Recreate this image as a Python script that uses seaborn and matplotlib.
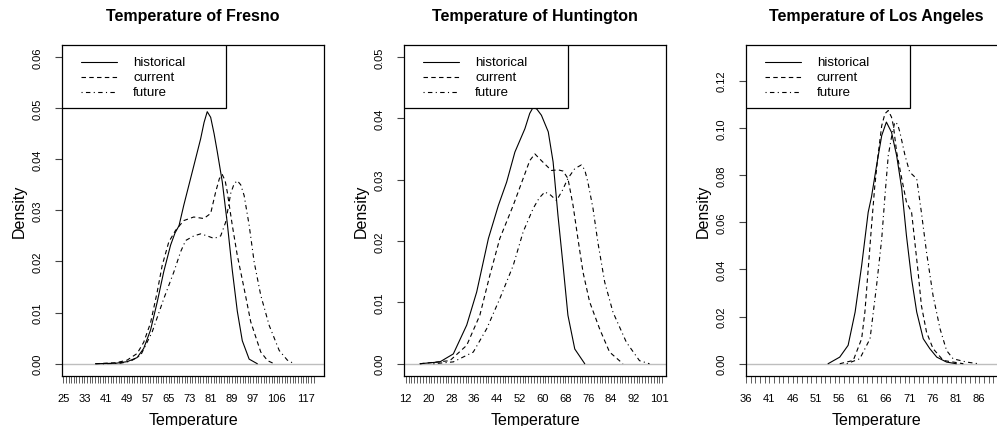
import matplotlib
matplotlib.use('Agg')
import pandas as pd
import matplotlib.pyplot as plt
from matplotlib.patches import Rectangle
import seaborn as sns

# Density curves: temperature (F) and density
fresno_hist_t = [37.2, 45.0, 49.2, 53.0, 55.5, 58.1, 60.6, 63.1, 65.7, 67.4, 68.9, 70.7, 74.5,
                 77.1, 78.4, 79.6, 80.9, 82.2, 83.4, 85.3, 87.2, 89.1, 91.0, 92.9, 95.5, 98.6]
fresno_hist_d = [0.0, 0.0001, 0.0004, 0.0012, 0.0030, 0.0066, 0.0120, 0.0180, 0.0232, 0.0256,
                 0.0270, 0.0310, 0.0387, 0.0440, 0.0472, 0.0493, 0.0482, 0.0450, 0.0415, 0.0356,
                 0.0275, 0.0183, 0.0103, 0.0045, 0.0009, 0.0]
fresno_curr_t = [37.2, 45.0, 49.2, 53.0, 55.5, 58.1, 60.6, 62.5, 65.0, 67.6, 70.7, 74.5, 78.3,
                 80.9, 82.8, 84.2, 85.3, 86.4, 87.2, 89.1, 91.0, 93.6, 96.1, 99.9, 102.5, 105.0]
fresno_curr_d = [0.0, 0.0002, 0.0007, 0.0020, 0.0042, 0.0080, 0.0140, 0.0192, 0.0238, 0.0261,
                 0.0280, 0.0287, 0.0284, 0.0294, 0.0336, 0.0362, 0.0370, 0.0358, 0.0336, 0.0271,
                 0.0212, 0.0147, 0.0082, 0.0023, 0.0006, 0.0]
fresno_fut_t = [40.0, 46.7, 50.5, 54.3, 58.7, 63.1, 66.9, 69.5, 71.4, 74.5, 77.1, 79.6, 82.2, 84.7,
                86.6, 88.5, 89.8, 91.0, 92.3, 93.6, 95.5, 97.4, 99.9, 103.1, 106.9, 110.0, 112.6]
fresno_fut_d = [0.0, 0.0001, 0.0005, 0.0016, 0.0062, 0.0127, 0.0179, 0.0219, 0.0241, 0.0250,
                0.0254, 0.0250, 0.0245, 0.0250, 0.0277, 0.0333, 0.0352, 0.0358, 0.0350, 0.0329,
                0.0271, 0.0199, 0.0134, 0.0075, 0.0026, 0.0007, 0.0]

hunt_hist_t = [17.0, 24.0, 28.7, 33.4, 36.9, 41.0, 44.5, 47.4, 50.3, 53.8, 55.5, 56.7, 58.0,
               59.6, 62.0, 63.7, 65.4, 67.2, 68.9, 71.3, 74.8]
hunt_hist_d = [0.0, 0.0003, 0.0016, 0.0063, 0.0117, 0.0204, 0.0258, 0.0296, 0.0345, 0.0383,
               0.0408, 0.0418, 0.0415, 0.0405, 0.0378, 0.0329, 0.0242, 0.0160, 0.0079, 0.0024, 0.0]
hunt_curr_t = [17.0, 27.5, 33.4, 38.0, 41.5, 45.0, 49.7, 53.2, 55.5, 57.3, 59.6, 63.1, 65.5,
               67.2, 68.9, 70.7, 72.4, 74.2, 76.5, 80.0, 83.5, 88.2]
hunt_curr_d = [0.0, 0.0005, 0.0030, 0.0079, 0.0144, 0.0204, 0.0258, 0.0302, 0.0331, 0.0342,
               0.0331, 0.0315, 0.0316, 0.0314, 0.0302, 0.0258, 0.0204, 0.0149, 0.0101, 0.0057,
               0.0019, 0.0]
hunt_fut_t = [21.7, 28.7, 35.7, 40.4, 45.0, 49.7, 53.2, 56.7, 58.8, 60.8, 62.8, 64.9, 66.9, 68.9,
              71.3, 73.6, 74.8, 75.9, 77.7, 79.4, 81.8, 84.7, 89.4, 94.0, 97.5]
hunt_fut_d = [0.0, 0.0003, 0.0019, 0.0057, 0.0106, 0.0160, 0.0215, 0.0253, 0.0270, 0.0280,
              0.0275, 0.0266, 0.0282, 0.0302, 0.0318, 0.0324, 0.0316, 0.0296, 0.0253, 0.0198,
              0.0133, 0.0084, 0.0035, 0.0005, 0.0]

la_hist_t = [53.6, 56.1, 57.9, 59.4, 60.8, 62.2, 62.9, 64.0, 65.1, 66.1, 67.2, 68.3, 69.4, 70.4,
             71.5, 72.6, 74.0, 75.4, 76.9, 79.0, 81.1]
la_hist_d = [0.0, 0.0028, 0.0078, 0.0219, 0.0416, 0.0642, 0.0706, 0.0840, 0.0967, 0.1024, 0.0981,
             0.0882, 0.0741, 0.0543, 0.0360, 0.0219, 0.0106, 0.0064, 0.0028, 0.0007, 0.0]
la_curr_t = [56.1, 59.0, 60.8, 61.5, 62.2, 62.9, 63.6, 64.3, 65.1, 65.8, 66.5, 67.2, 67.6, 68.3,
             69.4, 70.4, 71.5, 72.2, 72.9, 73.6, 74.7, 76.1, 78.3, 82.6]
la_curr_d = [0.0, 0.0014, 0.0106, 0.0220, 0.0400, 0.0580, 0.0750, 0.0882, 0.1009, 0.1060, 0.1073,
             0.1045, 0.1009, 0.0897, 0.0784, 0.0685, 0.0642, 0.0515, 0.0388, 0.0247, 0.0134,
             0.0064, 0.0014, 0.0]
la_fut_t = [57.6, 60.4, 62.6, 64.0, 65.1, 65.8, 66.5, 67.2, 67.9, 68.5, 69.0, 70.1, 71.1, 72.6,
            73.6, 74.7, 76.1, 77.6, 79.0, 80.4, 83.3, 85.8]
la_fut_d = [0.0, 0.0021, 0.0106, 0.0332, 0.0529, 0.0713, 0.0882, 0.0960, 0.1024, 0.1015, 0.0981,
            0.0882, 0.0812, 0.0784, 0.0642, 0.0473, 0.0289, 0.0148, 0.0056, 0.0021, 0.0007, 0.0]

cities = ['Fresno', 'Huntington', 'Los Angeles']
periods = ['historical', 'current', 'future']

# x axis: a tick at every degree, only some of them labelled (as R left them)
fresno_xticks = list(range(25, 121))
fresno_xlabels = [25, 33, 41, 49, 57, 65, 73, 81, 89, 97, 106, 117]
hunt_xticks = list(range(12, 103))
hunt_xlabels = [12, 20, 28, 36, 44, 52, 60, 68, 76, 84, 92, 101]
la_xticks = list(range(36, 93))
la_xlabels = [36, 41, 46, 51, 56, 61, 66, 71, 76, 81, 86, 91]

fresno_yticks = [0.00, 0.01, 0.02, 0.03, 0.04, 0.05, 0.06]
hunt_yticks = [0.00, 0.01, 0.02, 0.03, 0.04, 0.05]
la_yticks = [0.00, 0.02, 0.04, 0.06, 0.08, 0.10, 0.12]

curves = {
    'Fresno': [(fresno_hist_t, fresno_hist_d), (fresno_curr_t, fresno_curr_d), (fresno_fut_t, fresno_fut_d)],
    'Huntington': [(hunt_hist_t, hunt_hist_d), (hunt_curr_t, hunt_curr_d), (hunt_fut_t, hunt_fut_d)],
    'Los Angeles': [(la_hist_t, la_hist_d), (la_curr_t, la_curr_d), (la_fut_t, la_fut_d)],
}

panels = {
    'Fresno': dict(left=62, xlim=(24.5, 123.9), ylim=(-0.0024, 0.0624),
                   xticks=fresno_xticks, xlabels=fresno_xlabels, yticks=fresno_yticks),
    'Huntington': dict(left=404, xlim=(11.4, 103.3), ylim=(-0.002, 0.052),
                       xticks=hunt_xticks, xlabels=hunt_xlabels, yticks=hunt_yticks),
    'Los Angeles': dict(left=745.7, xlim=(35.95, 92.1), ylim=(-0.0052, 0.1352),
                        xticks=la_xticks, xlabels=la_xlabels, yticks=la_yticks),
}

DASHES = {'historical': '', 'current': (4, 3), 'future': (1, 3, 4, 3)}
W, H = 997, 427

sns.set_style('ticks')
plt.rcParams['font.family'] = ['Liberation Sans', 'DejaVu Sans']
plt.rcParams.update({'text.color': 'black', 'axes.labelcolor': 'black',
                     'xtick.labelcolor': 'black', 'ytick.labelcolor': 'black'})


def r_legend(ax):
    """Legend box in the R style, tucked into the top-left corner."""
    ax.add_patch(Rectangle((0, 0.809), 0.627, 0.191, transform=ax.transAxes,
                           facecolor='white', edgecolor='black', lw=0.9, zorder=5))
    for i, p in enumerate(periods):
        y = 0.948 - i * 0.0453
        ax.plot([0.073, 0.211], [y, y], transform=ax.transAxes, color='black', lw=0.8,
                dashes=DASHES[p] if DASHES[p] else (None, None), zorder=6)
        ax.text(0.272, y, p, transform=ax.transAxes, va='center', ha='left',
                fontsize=9.5, zorder=6)


fig = plt.figure(figsize=(W / 100, H / 100), dpi=100)

for city in cities:
    cfg = panels[city]
    ax = fig.add_axes([cfg['left'] / W, 1 - 377 / H, 262 / W, 331.3 / H])

    df = pd.concat([pd.DataFrame({'temp': t, 'density': d, 'period': p})
                    for (t, d), p in zip(curves[city], periods)], ignore_index=True)

    ax.axhline(0, color='#BEBEBE', lw=1, zorder=1)
    sns.lineplot(data=df, x='temp', y='density', style='period', style_order=periods,
                 dashes=DASHES, color='black', linewidth=0.8, estimator=None, sort=False,
                 legend=False, ax=ax, zorder=3)

    ax.set_xlim(*cfg['xlim'])
    ax.set_ylim(*cfg['ylim'])
    ax.set_xticks(cfg['xticks'])
    ax.set_xticklabels([str(v) if v in cfg['xlabels'] else '' for v in cfg['xticks']])
    ax.set_yticks(cfg['yticks'])
    ax.set_yticklabels(['%.2f' % v for v in cfg['yticks']], rotation=90, va='center')

    ax.tick_params(axis='x', length=5, width=0.6, color='#444444', pad=7, labelsize=8)
    ax.tick_params(axis='y', length=5, width=0.8, color='#444444', pad=9, labelsize=8)
    for s in ax.spines.values():
        s.set_visible(True)
        s.set_color('black')
        s.set_linewidth(0.9)

    ax.set_xlabel('Temperature', fontsize=11.5, labelpad=7)
    ax.set_ylabel('Density', fontsize=11.5, labelpad=4)
    ax.set_title('Temperature of ' + city, fontsize=11.5, fontweight='bold', pad=18)
    r_legend(ax)

fig.savefig('out.png', dpi=100)
